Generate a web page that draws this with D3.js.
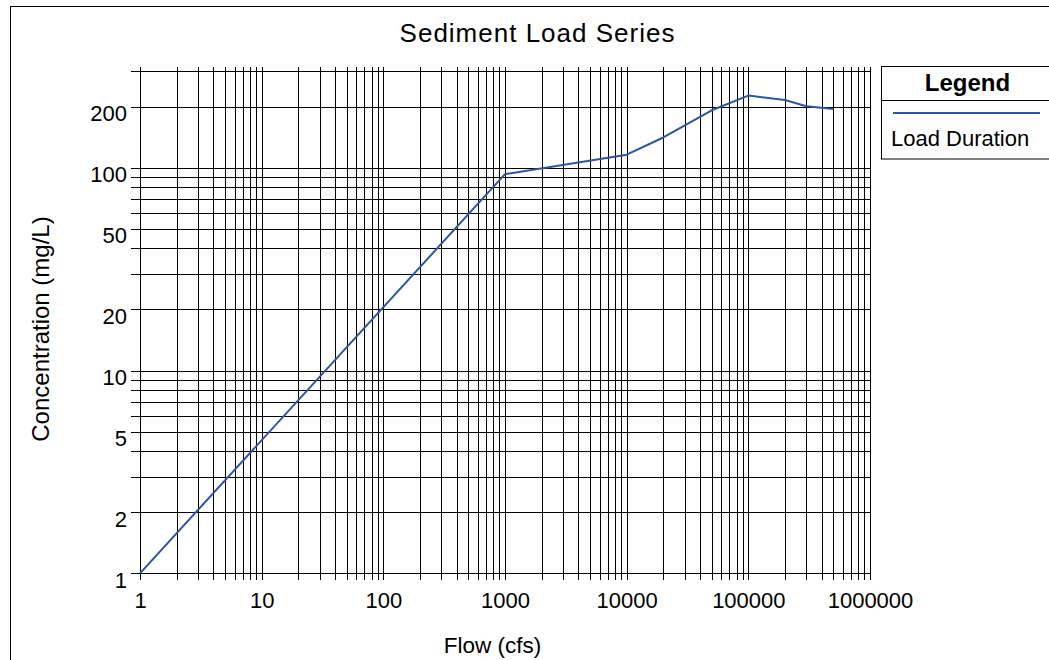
<!DOCTYPE html>
<html>
<head>
<meta charset="utf-8">
<script src="https://cdn.jsdelivr.net/npm/d3@7"></script>
<style>
  html, body { margin: 0; padding: 0; background: #fff; }
  svg { display: block; font-family: "Liberation Sans", Arial, sans-serif; }
</style>
</head>
<body>
<svg id="chart" width="1049" height="660"></svg>
<script>
// Load duration series: flow (cfs) vs. sediment concentration (mg/L)
const flow = [1, 1000, 10000, 20000, 50000, 100000, 200000, 300000, 500000];
const concentration = [1, 93, 116, 141, 192, 227, 216, 201, 195];

const xTickLabels = [1, 10, 100, 1000, 10000, 100000, 1000000];
const yTickLabels = [1, 2, 5, 10, 20, 50, 100, 200];

const seriesName = "Load Duration";

const svg = d3.select("#chart");
const W = 1049, H = 660;

svg.append("rect").attr("width", W).attr("height", H).attr("fill", "#fff");

// outer frame (runs past the right/bottom edges of the page)
svg.append("rect")
  .attr("x", 10.5).attr("y", 6.5)
  .attr("width", 1100).attr("height", 700)
  .attr("fill", "none").attr("stroke", "#000").attr("stroke-width", 1);

const plot = { left: 140, right: 870, top: 71, bottom: 573.3 };

const x = d3.scaleLog().domain([1, 1e6]).range([plot.left, plot.right]);
const y = d3.scaleLog().domain([1, 300]).range([plot.bottom, plot.top]);

const tickOut = 9;   // tick length outside left / bottom
const tickTop = 4;   // small overhang above the top edge

// vertical grid lines (every 1..9 per decade)
const gx = svg.append("g")
  .attr("transform", `translate(0,${plot.top - tickTop})`)
  .attr("shape-rendering", "crispEdges")
  .call(d3.axisBottom(x)
    .tickValues(x.ticks())
    .tickSize(plot.bottom - plot.top + tickTop + 7)
    .tickFormat(""));
gx.select(".domain").remove();
gx.selectAll("line").attr("stroke", "#000").attr("stroke-width", 1);

// horizontal grid lines
const gy = svg.append("g")
  .attr("transform", `translate(${plot.left - tickOut},0)`)
  .attr("shape-rendering", "crispEdges")
  .call(d3.axisRight(y)
    .tickValues(y.ticks())
    .tickSize(plot.right - plot.left + tickOut)
    .tickFormat(""));
gy.select(".domain").remove();
gy.selectAll("line").attr("stroke", "#000").attr("stroke-width", 1);

// x tick labels
const xl = svg.append("g")
  .attr("transform", `translate(0,${plot.bottom})`)
  .call(d3.axisBottom(x).tickValues(xTickLabels).tickSize(0).tickPadding(0)
    .tickFormat(d3.format("d")));
xl.select(".domain").remove();
xl.selectAll("text")
  .attr("y", 35).attr("dy", null)
  .attr("font-size", 22).attr("font-family", "Liberation Sans, Arial, sans-serif")
  .attr("fill", "#000");

// y tick labels
const yl = svg.append("g")
  .attr("transform", `translate(${plot.left},0)`)
  .call(d3.axisLeft(y).tickValues(yTickLabels).tickSize(0).tickPadding(0)
    .tickFormat(d3.format("d")));
yl.select(".domain").remove();
yl.selectAll("text")
  .attr("x", -13).attr("dy", null).attr("y", 14)
  .attr("font-size", 22).attr("font-family", "Liberation Sans, Arial, sans-serif")
  .attr("fill", "#000");

// series line
const line = d3.line()
  .x((d, i) => x(flow[i]))
  .y((d, i) => y(concentration[i]));

svg.append("path")
  .datum(flow)
  .attr("d", line)
  .attr("fill", "none")
  .attr("stroke", "#2b55a6")
  .attr("stroke-width", 2)
  .attr("stroke-linejoin", "round");

// title
svg.append("text")
  .attr("x", 537.5).attr("y", 42)
  .attr("text-anchor", "middle")
  .attr("font-size", 26)
  .attr("letter-spacing", 1)
  .attr("fill", "#000")
  .text("Sediment Load Series");

// axis titles
svg.append("text")
  .attr("x", 492.5).attr("y", 653)
  .attr("text-anchor", "middle")
  .attr("font-size", 22.5)
  .attr("fill", "#000")
  .text("Flow (cfs)");

svg.append("text")
  .attr("transform", "translate(49,329) rotate(-90)")
  .attr("text-anchor", "middle")
  .attr("font-size", 24)
  .attr("fill", "#000")
  .text("Concentration (mg/L)");

// legend box
const lg = svg.append("g");
lg.append("rect")
  .attr("x", 881.5).attr("y", 66.5)
  .attr("width", 172).attr("height", 92.5)
  .attr("fill", "#fff").attr("stroke", "#000");
lg.append("line")
  .attr("x1", 881.5).attr("x2", 1053.5)
  .attr("y1", 100.5).attr("y2", 100.5)
  .attr("stroke", "#000");
lg.append("text")
  .attr("x", 967.5).attr("y", 91)
  .attr("text-anchor", "middle")
  .attr("font-size", 24).attr("font-weight", "bold")
  .attr("fill", "#000")
  .text("Legend");
lg.append("line")
  .attr("x1", 893).attr("x2", 1040)
  .attr("y1", 113).attr("y2", 113)
  .attr("stroke", "#2b55a6").attr("stroke-width", 2);
lg.append("text")
  .attr("x", 891).attr("y", 146)
  .attr("font-size", 22)
  .attr("fill", "#000")
  .text(seriesName);
</script>
</body>
</html>
